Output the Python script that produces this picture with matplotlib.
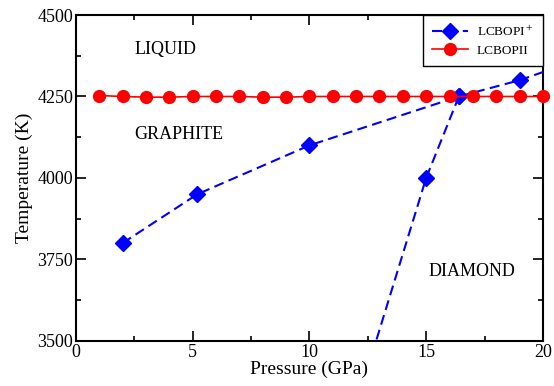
import matplotlib
matplotlib.use("Agg")
import matplotlib.pyplot as plt
from matplotlib.ticker import MultipleLocator

plt.rcParams['font.family'] = ['Liberation Serif', 'DejaVu Serif']
plt.rcParams['mathtext.fontset'] = 'stix'

# LCBOPI+ : graphite/liquid line (last point beyond the frame)
p_gl = [2, 5.2, 10, 16.4, 19, 21]
t_gl = [3800, 3950, 4100, 4250, 4300, 4350]
# LCBOPI+ : graphite/diamond line (first point below the frame)
p_gd = [16.4, 15, 12]
t_gd = [4250, 4000, 3300]

# LCBOPII : melting line
p_ii = list(range(1, 21))
t_ii = [4253, 4250, 4248, 4248, 4250, 4250, 4250, 4248, 4248, 4250,
        4250, 4250, 4250, 4250, 4250, 4250, 4250, 4250, 4250, 4250]

fig = plt.figure(figsize=(5.54, 3.86), dpi=100)
ax = fig.add_axes([0.137, 0.117, 0.843, 0.844])

dash = (0, (4.8, 2.6))
ax.plot(p_gl, t_gl, color='blue', lw=1.5, ls=dash, marker='D', ms=8,
        label='LCBOPI$^+$', zorder=3)
ax.plot(p_gd, t_gd, color='blue', lw=1.5, ls=dash, marker='D', ms=8,
        zorder=3)
ax.plot(p_ii, t_ii, color='red', lw=1.2, marker='o', ms=8.5,
        label='LCBOPII', zorder=4, clip_on=False)

ax.set_xlim(0, 20)
ax.set_ylim(3500, 4500)
ax.xaxis.set_major_locator(MultipleLocator(5))
ax.xaxis.set_minor_locator(MultipleLocator(2.5))
ax.yaxis.set_major_locator(MultipleLocator(250))
ax.yaxis.set_minor_locator(MultipleLocator(125))
ax.tick_params(which='both', direction='in', top=True, right=True,
               labelsize=13, colors='black', width=1.2, pad=2)
ax.tick_params(which='major', length=7)
ax.tick_params(which='minor', length=3.6)
for s in ax.spines.values():
    s.set_linewidth(1.5)

ax.set_xlabel('Pressure (GPa)', fontsize=14, labelpad=0)
ax.set_ylabel('Temperature (K)', fontsize=14, labelpad=3)

ax.text(2.5, 4380, 'LIQUID', fontsize=13)
ax.text(2.5, 4120, 'GRAPHITE', fontsize=13)
ax.text(15.1, 3700, 'DIAMOND', fontsize=13)

leg = ax.legend(loc='upper right', fontsize=9.5, frameon=True, fancybox=False,
                edgecolor='black', handlelength=2.7, handletextpad=0.7,
                borderaxespad=0.0, borderpad=0.7, labelspacing=0.45,
                framealpha=1)
leg.get_frame().set_linewidth(1.0)
leg.set_zorder(10)

fig.savefig('out.png', dpi=100)
